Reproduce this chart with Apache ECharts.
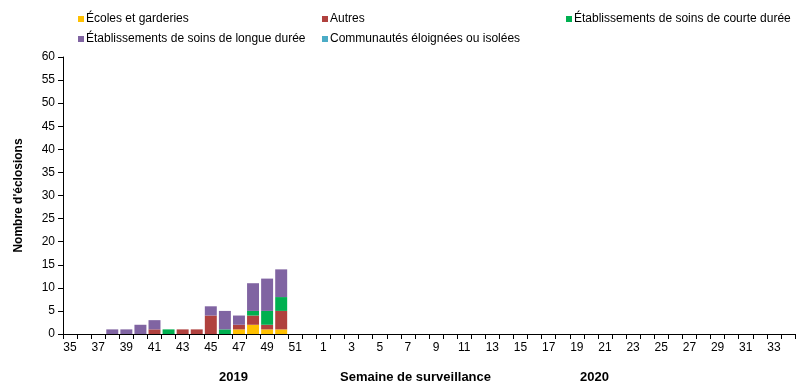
<!DOCTYPE html>
<html><head><meta charset="utf-8">
<script src="https://cdn.jsdelivr.net/npm/echarts@6/dist/echarts.min.js"></script>
<style>html,body{margin:0;padding:0;background:#fff}#c{width:805px;height:386px}</style>
</head><body><div id="c"></div>
<script>
const weeks = ['35','36','37','38','39','40','41','42','43','44','45','46','47','48','49','50','51','52',
 '1','2','3','4','5','6','7','8','9','10','11','12','13','14','15','16','17','18','19','20','21','22','23','24','25','26','27','28','29','30','31','32','33','34'];
const ecoles  = [0,0,0,0,0,0,0,0,0,0,0,0,1,2,1,1];
const autres  = [0,0,0,0,0,0,1,0,1,1,4,0,1,2,1,4];
const courte  = [0,0,0,0,0,0,0,1,0,0,0,1,0,1,3,3];
const longue  = [0,0,0,1,1,2,2,0,0,0,2,4,2,6,7,6];
const commun  = [0,0,0,0,0,0,0,0,0,0,0,0,0,0,0,0];
const names = ['Écoles et garderies','Autres','Établissements de soins de courte durée','Établissements de soins de longue durée','Communautés éloignées ou isolées'];
const colors = ['#FFC000','#B0413E','#00B050','#8064A2','#4BACC6'];
const values = [ecoles, autres, courte, longue, commun];
const font = 'Liberation Sans, Arial, sans-serif';
const legendPos = [[78,13],[322,13],[566,13],[78,33],[322,33]];
const chart = echarts.init(document.getElementById('c'));
chart.setOption({
  animation:false,
  textStyle:{fontFamily:font,color:'#000'},
  grid:{left:63,right:10,top:57,bottom:52},
  legend: names.map((n,i)=>({
    data:[n], left:legendPos[i][0], top:legendPos[i][1], itemWidth:6, itemHeight:6, itemGap:0,
    icon:'rect', selectedMode:false, padding:0,
    textStyle:{fontFamily:font,fontSize:12,color:'#000',padding:[0,0,0,-3]}
  })),
  xAxis:{type:'category',data:weeks,
    axisLine:{lineStyle:{color:'#000',width:1}},
    axisTick:{show:true,alignWithLabel:false,interval:0,length:5,lineStyle:{color:'#000'}},
    axisLabel:{interval:1,color:'#000',fontSize:12,fontFamily:font,margin:8}
  },
  yAxis:{type:'value',min:0,max:60,interval:5,
    name:"Nombre d'éclosions",nameLocation:'middle',nameGap:38,
    nameTextStyle:{fontWeight:'bold',fontSize:12,fontFamily:font,color:'#000'},
    axisLine:{show:true,lineStyle:{color:'#000'}},
    axisTick:{show:true,length:5,lineStyle:{color:'#000'}},
    axisLabel:{color:'#000',fontSize:12,fontFamily:font,margin:8},
    splitLine:{show:false}
  },
  graphic:[
    {type:'text',left:219,top:371,style:{text:'2019',font:'bold 13px '+font,fill:'#000'}},
    {type:'text',left:340,top:371,style:{text:'Semaine de surveillance',font:'bold 13px '+font,fill:'#000'}},
    {type:'text',left:580,top:371,style:{text:'2020',font:'bold 13px '+font,fill:'#000'}}
  ],
  series: names.map((n,i)=>({
    name:n,type:'bar',stack:'s',data:values[i],barCategoryGap:'15%',
    itemStyle:{color:colors[i]}
  }))
});
</script></body></html>
